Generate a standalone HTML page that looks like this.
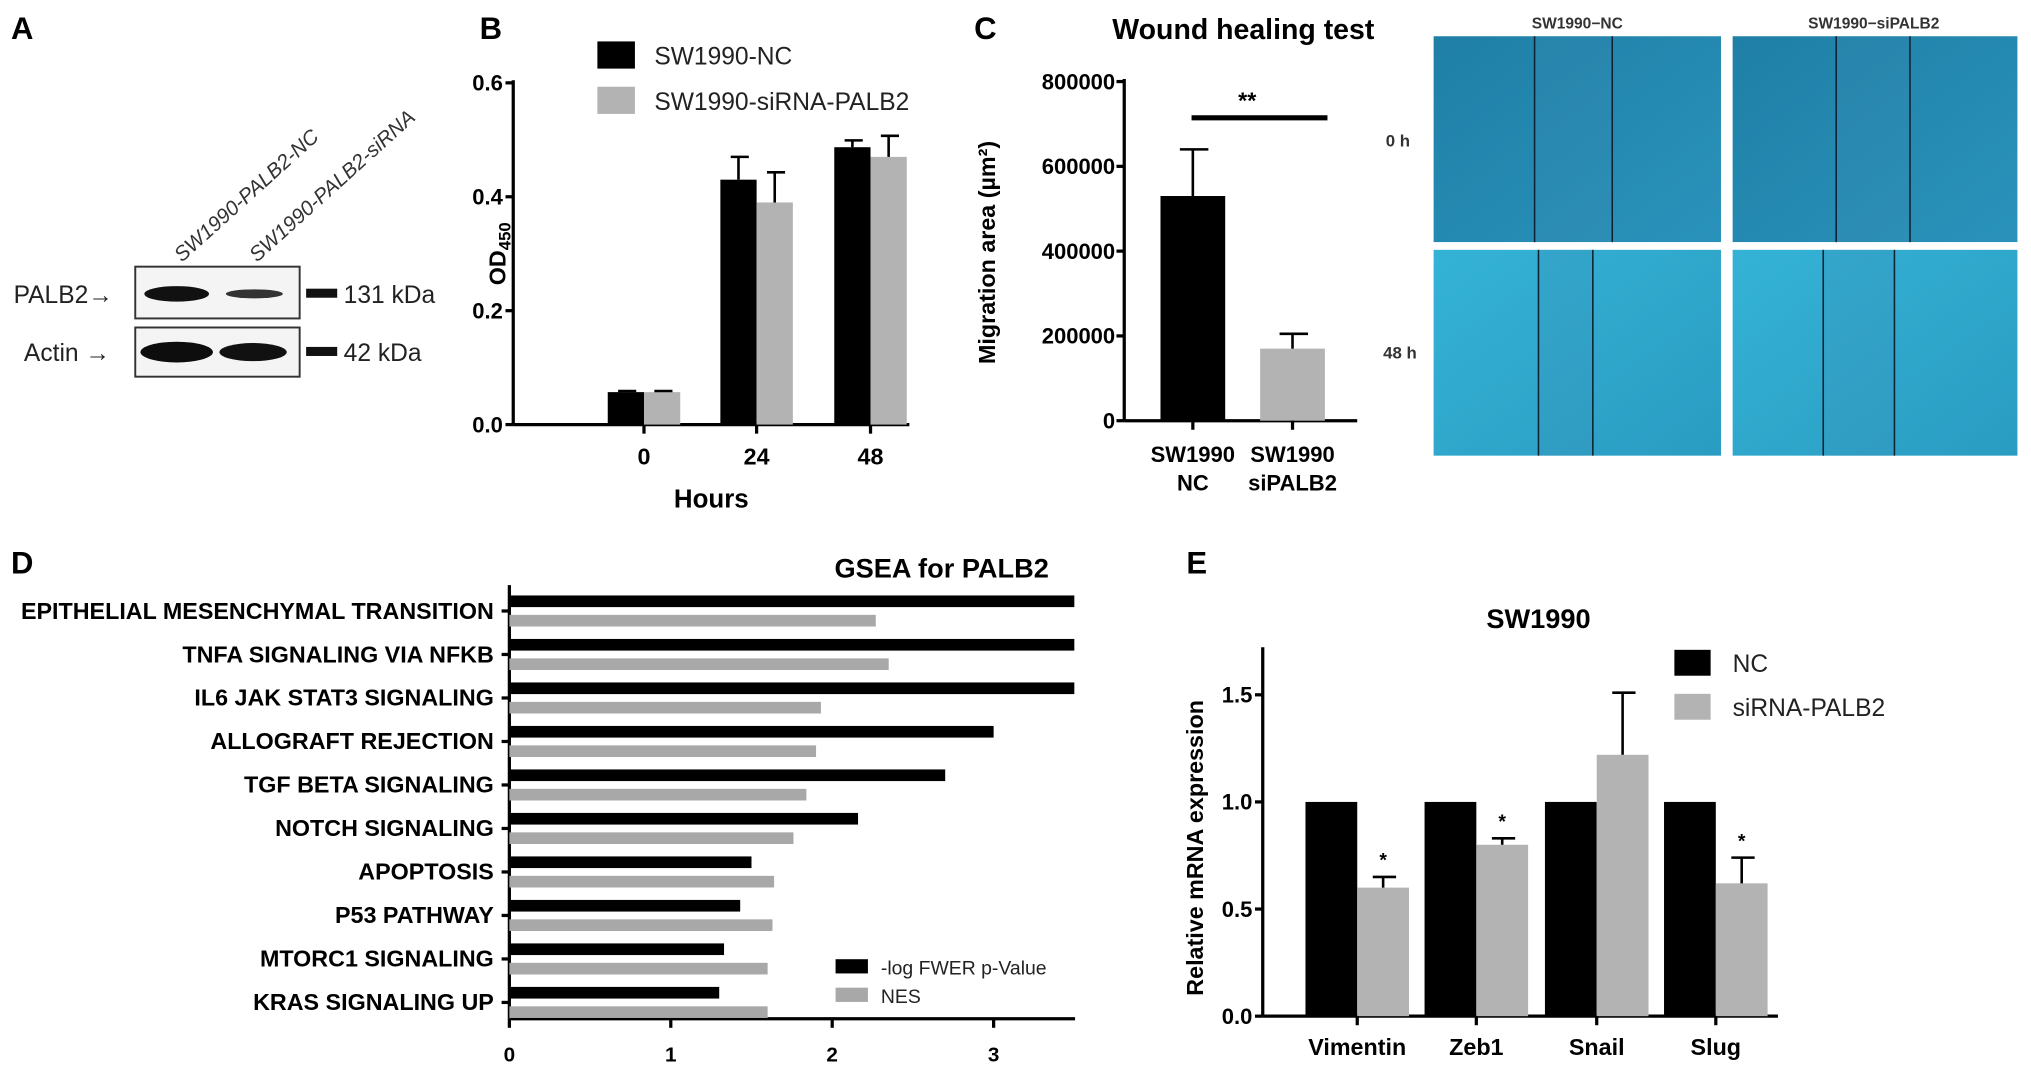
<!DOCTYPE html>
<html><head><meta charset="utf-8"><style>
html,body{margin:0;padding:0;background:#fff;}
svg{display:block;font-family:"Liberation Sans",sans-serif;}
.b{font-weight:bold;}
</style></head><body>
<svg id="fig" width="2031" height="1077" viewBox="0 0 1568 832" xmlns="http://www.w3.org/2000/svg">
<defs>
<linearGradient id="blue1" x1="0" y1="0" x2="1" y2="1"><stop offset="0" stop-color="#1f7fa6"/><stop offset="1" stop-color="#2a93bb"/></linearGradient>
<linearGradient id="blue2" x1="0" y1="0" x2="1" y2="1"><stop offset="0" stop-color="#34b3d6"/><stop offset="1" stop-color="#2a9cc2"/></linearGradient>
</defs>
<g>
<text x="8" y="30" class="b" font-size="24">A</text>
<text transform="translate(140,203) rotate(-42)" font-size="16" font-style="italic" fill="#333">SW1990-PALB2-NC</text>
<text transform="translate(198,203) rotate(-42)" font-size="16" font-style="italic" fill="#333">SW1990-PALB2-siRNA</text>
<rect x="104" y="206" width="127" height="40" fill="#f4f4f4" stroke="#333" stroke-width="1.5"/>
<ellipse cx="136" cy="227" rx="25" ry="6" fill="#111"/>
<ellipse cx="196" cy="227" rx="22" ry="3.5" fill="#333"/>
<rect x="104" y="253" width="127" height="38" fill="#f4f4f4" stroke="#333" stroke-width="1.5"/>
<ellipse cx="136" cy="272" rx="28" ry="8" fill="#0d0d0d"/>
<ellipse cx="195" cy="272" rx="26" ry="7" fill="#111"/>
<text x="10" y="234" font-size="19" fill="#222">PALB2→</text>
<text x="18" y="279" font-size="19" fill="#222">Actin →</text>
<rect x="236" y="223" width="24" height="7" fill="#111"/>
<rect x="236" y="268" width="24" height="7" fill="#111"/>
<text x="265" y="234" font-size="19" fill="#222">131 kDa</text>
<text x="265" y="279" font-size="19" fill="#222">42 kDa</text>
</g>
<text x="370" y="30" class="b" font-size="24">B</text>
<text x="752" y="30" class="b" font-size="24">C</text>
<text x="8" y="443" class="b" font-size="24">D</text>
<text x="916" y="443" class="b" font-size="24">E</text>
<g id="gB"></g>
<g id="gC"></g>
<g id="gImg"></g>
<g id="gD"></g>
<g id="gE"></g>
</svg>
<script>
// ---- Panel B data ----
const bCategories = ["0","24","48"];
const bNC = [0.057, 0.43, 0.487];
const bNCerr = [0.002, 0.04, 0.012];
const bSi = [0.057, 0.39, 0.47];
const bSierr = [0.002, 0.053, 0.037];
const bTicks = ["0.0","0.2","0.4","0.6"];
// ---- Panel C data ----
const cCategories = [["SW1990","NC"],["SW1990","siPALB2"]];
const cValues = [530000, 170000];
const cErr = [110000, 35000];
const cTicks = ["0","200000","400000","600000","800000"];
// ---- Panel D data ----
const dCategories = ["EPITHELIAL MESENCHYMAL TRANSITION","TNFA SIGNALING VIA NFKB","IL6 JAK STAT3 SIGNALING","ALLOGRAFT REJECTION","TGF BETA SIGNALING","NOTCH SIGNALING","APOPTOSIS","P53 PATHWAY","MTORC1 SIGNALING","KRAS SIGNALING UP"];
const dLogP = [3.5,3.5,3.5,3.0,2.7,2.16,1.5,1.43,1.33,1.3];
const dNES = [2.27,2.35,1.93,1.9,1.84,1.76,1.64,1.63,1.6,1.6];
const dTicks = ["0","1","2","3"];
// ---- Panel E data ----
const eCategories = ["Vimentin","Zeb1","Snail","Slug"];
const eNC = [1,1,1,1];
const eSi = [0.6,0.8,1.22,0.62];
const eSiErr = [0.05,0.03,0.29,0.12];
const eSig = [true,true,false,true];
const eTicks = ["0.0","0.5","1.0","1.5"];

const NS="http://www.w3.org/2000/svg";
function mk(parent,tag,attrs,text){const e=document.createElementNS(NS,tag);for(const k in attrs)e.setAttribute(k,attrs[k]);if(text!==undefined)e.textContent=text;parent.appendChild(e);return e;}
const GREY="#b3b3b3";

(function(){
const g=document.getElementById('gB');
const x0=396,y0=328,yTop=64,max=0.6;
const ys=v=>y0-(v/max)*(y0-yTop);
const cx=[497,584,672], bw=28;
let l=mk(g,'line',{x1:x0,y1:yTop-2,x2:x0,y2:y0,stroke:'#000','stroke-width':2.5});

l=mk(g,'line',{x1:x0,y1:y0,x2:702,y2:y0,stroke:'#000','stroke-width':2.5});

bTicks.forEach(t=>{const y=ys(parseFloat(t));
 let tk=mk(g,'line',{x1:x0-6,y1:y,x2:x0,y2:y,stroke:'#000','stroke-width':2.5});
 
 let tx=mk(g,'text',{x:x0-8,y:y+6,'text-anchor':'end','font-size':17,'font-weight':'bold'},t);
 });
bCategories.forEach((c,i)=>{
 let tk=mk(g,'line',{x1:cx[i],y1:y0,x2:cx[i],y2:y0+7,stroke:'#000','stroke-width':2.5});
 
 let tx=mk(g,'text',{x:cx[i],y:y0+31,'text-anchor':'middle','font-size':18,'font-weight':'bold'},c);
 
 [[bNC,bNCerr,'#000',cx[i]-bw,'nc'],[bSi,bSierr,GREY,cx[i],'sirna']].forEach(s=>{
  const v=s[0][i],e=s[1][i];
  let r=mk(g,'rect',{x:s[3],y:ys(v),width:bw,height:y0-ys(v),fill:s[2]});
  
  const mx=s[3]+bw/2;
  let el=mk(g,'path',{d:`M${mx},${ys(v)} V${ys(v+e)} M${mx-6},${ys(v+e)} H${mx+8}`,stroke:'#000','stroke-width':2,fill:'none'});
  
 });
});
let t=mk(g,'text',{x:549,y:392,'text-anchor':'middle','font-size':20,'font-weight':'bold'},'Hours');

t=mk(g,'text',{transform:'translate(390,196) rotate(-90)','text-anchor':'middle','font-size':18,'font-weight':'bold'});

t.innerHTML='OD<tspan font-size="13" dy="4">450</tspan>';
let r=mk(g,'rect',{x:461,y:32,width:29,height:21,fill:'#000'});
r=mk(g,'rect',{x:461,y:67,width:29,height:21,fill:GREY});
t=mk(g,'text',{x:505,y:50,'font-size':19,fill:'#222'},'SW1990-NC');
t=mk(g,'text',{x:505,y:85,'font-size':19,fill:'#222'},'SW1990-siRNA-PALB2');
})();

(function(){
const g=document.getElementById('gC');
const x0=868,y0=325,yTop=63,max=800000;
const ys=v=>y0-(v/max)*(y0-yTop);
const cx=[921,998],bw=50,fills=['#000',GREY];
let t=mk(g,'text',{x:960,y:30,'text-anchor':'middle','font-size':22,'font-weight':'bold'},'Wound healing test');

let l=mk(g,'line',{x1:x0,y1:yTop-2,x2:x0,y2:y0,stroke:'#000','stroke-width':2.5});
l=mk(g,'line',{x1:x0,y1:y0,x2:1048,y2:y0,stroke:'#000','stroke-width':2.5});
cTicks.forEach(tk=>{const y=ys(parseFloat(tk));
 let a=mk(g,'line',{x1:x0-6,y1:y,x2:x0,y2:y,stroke:'#000','stroke-width':2.5});
 let b=mk(g,'text',{x:x0-7,y:y+6,'text-anchor':'end','font-size':17,'font-weight':'bold'},tk);});
cCategories.forEach((c,i)=>{
 const v=cValues[i],e=cErr[i];
 let r=mk(g,'rect',{x:cx[i]-bw/2,y:ys(v),width:bw,height:y0-ys(v),fill:fills[i]});
 let el=mk(g,'path',{d:`M${cx[i]},${ys(v)} V${ys(v+e)} M${cx[i]-10},${ys(v+e)} H${cx[i]+12}`,stroke:'#000','stroke-width':2,fill:'none'});
 let tk=mk(g,'line',{x1:cx[i],y1:y0,x2:cx[i],y2:y0+7,stroke:'#000','stroke-width':2.5});
 let a=mk(g,'text',{x:cx[i],y:357,'text-anchor':'middle','font-size':17,'font-weight':'bold'},c[0]);
 let b=mk(g,'text',{x:cx[i],y:379,'text-anchor':'middle','font-size':17,'font-weight':'bold'},c[1]);
});
let s=mk(g,'line',{x1:920,y1:91,x2:1025,y2:91,stroke:'#000','stroke-width':4});
t=mk(g,'text',{x:963,y:84,'text-anchor':'middle','font-size':18,'font-weight':'bold'},'**');
t=mk(g,'text',{transform:'translate(768,195) rotate(-90)','text-anchor':'middle','font-size':18,'font-weight':'bold'},'Migration area (µm²)');

})();

(function(){
const g=document.getElementById('gImg');
const cols=[[1107,222,'nc'],[1338,220,'sipalb2']],rows=[[28,159,'0h','url(#blue1)',[[1185,1245],[1418,1475]]],[193,159,'48h','url(#blue2)',[[1188,1230],[1408,1463]]]];
rows.forEach((rw,ri)=>cols.forEach((c,ci)=>{
 let r=mk(g,'rect',{x:c[0],y:rw[0],width:c[1],height:rw[1],fill:rw[3]});
 
 const xs=rw[4][ci];
 mk(g,'rect',{x:xs[0],y:rw[0],width:xs[1]-xs[0],height:rw[1],fill:'rgba(60,140,180,0.25)'});
 xs.forEach(x=>{mk(g,'line',{x1:x,y1:rw[0],x2:x,y2:rw[0]+rw[1],stroke:'#123','stroke-width':1.2});});
}));
let t=mk(g,'text',{x:1218,y:22,'text-anchor':'middle','font-size':12,'font-weight':'bold',fill:'#333'},'SW1990−NC');
t=mk(g,'text',{x:1447,y:22,'text-anchor':'middle','font-size':12,'font-weight':'bold',fill:'#333'},'SW1990−siPALB2');
t=mk(g,'text',{x:1070,y:113,'font-size':13,'font-weight':'bold',fill:'#333'},'0 h');
t=mk(g,'text',{x:1068,y:277,'font-size':13,'font-weight':'bold',fill:'#333'},'48 h');
})();

(function(){
const g=document.getElementById('gD');
const x0=393,unit=124.7,yTop=452,yBot=787,xEnd=830;
const xs=v=>x0+v*unit;
let t=mk(g,'text',{x:727,y:446,'text-anchor':'middle','font-size':21,'font-weight':'bold'},'GSEA for PALB2');
let l=mk(g,'line',{x1:x0,y1:yTop,x2:x0,y2:yBot,stroke:'#000','stroke-width':2.5});
l=mk(g,'line',{x1:x0,y1:yBot,x2:xEnd,y2:yBot,stroke:'#000','stroke-width':2.5});
dTicks.forEach(tk=>{const x=xs(parseFloat(tk));
 let a=mk(g,'line',{x1:x,y1:yBot,x2:x,y2:yBot+7,stroke:'#000','stroke-width':2.5});
 let b=mk(g,'text',{x:x,y:820,'text-anchor':'middle','font-size':16,'font-weight':'bold'},tk);});
dCategories.forEach((c,i)=>{
 const cy=yTop+20+i*33.6;
 let a=mk(g,'rect',{x:x0,y:cy-12,width:xs(dLogP[i])-x0,height:9,fill:'#000'});
 let b=mk(g,'rect',{x:x0,y:cy+3,width:xs(dNES[i])-x0,height:9,fill:'#a8a8a8'});
 let tk=mk(g,'line',{x1:x0-6,y1:cy,x2:x0,y2:cy,stroke:'#000','stroke-width':2.5});
 let tx=mk(g,'text',{x:x0-12,y:cy+6,'text-anchor':'end','font-size':18,'font-weight':'bold'},c);
});
let r=mk(g,'rect',{x:645,y:741,width:25,height:11,fill:'#000'});
r=mk(g,'rect',{x:645,y:763,width:25,height:11,fill:'#a8a8a8'});
t=mk(g,'text',{x:680,y:753,'font-size':15,fill:'#222'},'-log FWER p-Value');
t=mk(g,'text',{x:680,y:775,'font-size':15,fill:'#222'},'NES');
})();

(function(){
const g=document.getElementById('gE');
const x0=975,y0=785,unit=165.5,yTop=500;
const ys=v=>y0-v*unit;
const cx=[1048,1140,1233,1325],bw=40;
let t=mk(g,'text',{x:1188,y:485,'text-anchor':'middle','font-size':21,'font-weight':'bold'},'SW1990');
let l=mk(g,'line',{x1:x0,y1:yTop,x2:x0,y2:y0,stroke:'#000','stroke-width':2.5});
l=mk(g,'line',{x1:x0,y1:y0,x2:1373,y2:y0,stroke:'#000','stroke-width':2.5});
eTicks.forEach(tk=>{const y=ys(parseFloat(tk));
 let a=mk(g,'line',{x1:x0-6,y1:y,x2:x0,y2:y,stroke:'#000','stroke-width':2.5});
 let b=mk(g,'text',{x:x0-8,y:y+6,'text-anchor':'end','font-size':17,'font-weight':'bold'},tk);});
eCategories.forEach((c,i)=>{
 let a=mk(g,'rect',{x:cx[i]-bw,y:ys(eNC[i]),width:bw,height:y0-ys(eNC[i]),fill:'#000'});
 const v=eSi[i],e=eSiErr[i],mx=cx[i]+bw/2;
 let b=mk(g,'rect',{x:cx[i],y:ys(v),width:bw,height:y0-ys(v),fill:GREY});
 let el=mk(g,'path',{d:`M${mx},${ys(v)} V${ys(v+e)} M${mx-8},${ys(v+e)} H${mx+10}`,stroke:'#000','stroke-width':2,fill:'none'});
 if(eSig[i]){let s=mk(g,'text',{x:mx,y:ys(v+e)-8,'text-anchor':'middle','font-size':15,'font-weight':'bold'},'*');}
 let tk=mk(g,'line',{x1:cx[i],y1:y0,x2:cx[i],y2:y0+7,stroke:'#000','stroke-width':2.5});
 let tx=mk(g,'text',{x:cx[i],y:815,'text-anchor':'middle','font-size':18,'font-weight':'bold'},c);
});
t=mk(g,'text',{transform:'translate(929,655) rotate(-90)','text-anchor':'middle','font-size':18,'font-weight':'bold'},'Relative mRNA expression');
let r=mk(g,'rect',{x:1293,y:502,width:28,height:20,fill:'#000'});
r=mk(g,'rect',{x:1293,y:536,width:28,height:20,fill:GREY});
t=mk(g,'text',{x:1338,y:519,'font-size':19,fill:'#222'},'NC');
t=mk(g,'text',{x:1338,y:553,'font-size':19,fill:'#222'},'siRNA-PALB2');
})();
</script>
</body></html>
